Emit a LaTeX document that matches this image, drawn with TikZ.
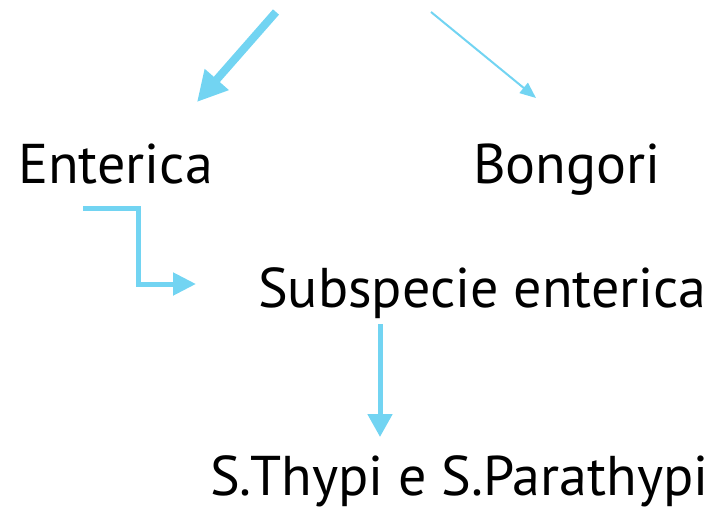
\documentclass[tikz,border=0pt]{standalone}
\usepackage{fontspec}
\setmainfont{PT Sans}
\usetikzlibrary{arrows.meta,positioning}
\definecolor{skyblue}{RGB}{114,212,242}

\begin{document}
\begin{tikzpicture}[x=1pt, y=-1pt,
    label/.style={anchor=base west, inner sep=0pt, font=\fontsize{56}{60}\selectfont},
    link/.style={draw=skyblue, line width=#1},
    link/.default=5pt]
    \useasboundingbox (0,0) rectangle (725,511);

    \node[label] (enterica) at (18,183) {Enterica};
    \node[label] (bongori) at (473,183) {Bongori};
    \node[label] (subsp) at (258,307) {Subspecie enterica};
    \node[label] (typhi) at (210,495) {S.Thypi e S.Parathypi};

    \coordinate (rootL) at (276,12);
    \coordinate (rootR) at (431,12);
    \coordinate (toE) at (197,102);
    \coordinate (toB) at (536,98);
    \coordinate (fromE) at (83,208);
    \coordinate (toS) at (196,284);
    \coordinate (fromS) at (380,324);
    \coordinate (toT) at (380,437);

    \draw[link=8pt, -{Triangle[length=30pt, width=30pt]}] (rootL) -- (toE);
    \draw[link=2pt, -{Triangle[length=16pt, width=13pt]}] (rootR) -- (toB);
    \draw[link, -{Triangle[length=23pt, width=22pt]}] (fromE) -| (138,284) -- (toS);
    \draw[link, -{Triangle[length=23pt, width=24pt]}] (fromS) -- (toT);
\end{tikzpicture}
\end{document}
